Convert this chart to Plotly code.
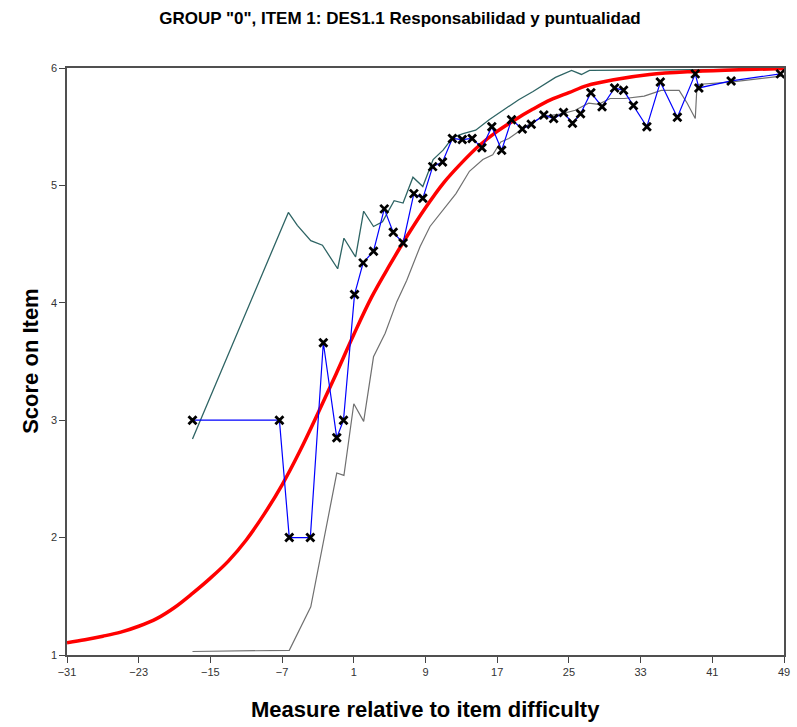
import plotly.graph_objects as go

# Empirical observed average scores
emp_x = [-17.0, -7.3, -6.2, -3.85, -2.4, -0.9, -0.15, 1.08, 2.04, 3.2, 4.4, 5.4, 6.5, 7.7, 8.7,
         9.8, 10.9, 12.0, 13.1, 14.2, 15.3, 16.4, 17.5, 18.6, 19.8, 20.8, 22.2, 23.3, 24.4, 25.4,
         26.3, 27.45, 28.7, 30.1, 31.1, 32.2, 33.7, 35.2, 37.1, 39.1, 39.5, 43.1, 48.6]
emp_y = [3.0, 3.0, 2.0, 2.0, 3.66, 2.85, 3.0, 4.07, 4.34, 4.44, 4.80, 4.60, 4.51, 4.93, 4.89,
         5.16, 5.20, 5.40, 5.39, 5.40, 5.32, 5.50, 5.30, 5.56, 5.48, 5.52, 5.60, 5.57, 5.62, 5.53,
         5.61, 5.79, 5.67, 5.83, 5.81, 5.68, 5.50, 5.88, 5.58, 5.95, 5.83, 5.89, 5.95]

# Model expected score curve
model_x = [-31, -29, -27, -25, -23, -21, -19, -17, -15, -13, -11, -9, -7, -5, -3, -1, 1, 3, 5, 7, 9,
           11, 13, 15, 17, 19, 21, 23, 25, 27, 30, 34, 39, 44, 49]
model_y = [1.105, 1.13, 1.16, 1.195, 1.245, 1.31, 1.405, 1.525, 1.655, 1.80, 1.98, 2.20, 2.45,
           2.74, 3.06, 3.39, 3.73, 4.05, 4.32, 4.575, 4.81, 5.02, 5.19, 5.34, 5.46, 5.56, 5.65,
           5.73, 5.79, 5.85, 5.90, 5.945, 5.97, 5.985, 5.995]

# Upper confidence band
upper_x = [-17.0, -6.3, -5.3, -3.8, -2.5, -0.8, -0.1, 1.2, 2.1, 3.2, 4.2, 5.5, 6.5, 7.6, 8.7,
           9.85, 10.96, 12.06, 13.2, 14.6, 16.1, 18.3, 19.4, 21.0, 22.2, 23.5, 25.3, 26.4, 27.3,
           35.0, 48.6]
upper_y = [2.84, 4.77, 4.66, 4.53, 4.49, 4.29, 4.55, 4.39, 4.78, 4.65, 4.69, 4.87, 4.85, 5.07, 4.99,
           5.22, 5.30, 5.41, 5.44, 5.47, 5.56, 5.67, 5.73, 5.80, 5.86, 5.92, 5.98, 5.945, 5.98,
           5.985, 5.99]

# Lower confidence band
lower_x = [-17.0, -6.2, -3.8, -0.9, -0.1, 1.0, 2.1, 3.2, 4.5, 5.8, 6.9, 8.4, 9.5, 11.0, 12.4,
           13.9, 15.4, 16.5, 17.4, 18.3, 20.9, 22.4, 24.2, 25.7, 27.2, 28.3, 29.6, 31.2, 33.4,
           35.3, 37.3, 38.2, 39.1, 39.3, 43.0, 48.7]
lower_y = [1.03, 1.04, 1.41, 2.55, 2.53, 3.14, 2.99, 3.54, 3.74, 4.01, 4.19, 4.48, 4.65, 4.79, 4.93,
           5.12, 5.22, 5.26, 5.37, 5.40, 5.54, 5.59, 5.61, 5.64, 5.70, 5.69, 5.74, 5.74, 5.76,
           5.81, 5.81, 5.70, 5.57, 5.86, 5.88, 5.93]

x_ticks = [-31, -23, -15, -7, 1, 9, 17, 25, 33, 41, 49]
y_ticks = [1, 2, 3, 4, 5, 6]

title = 'GROUP "0", ITEM 1: DES1.1 Responsabilidad y puntualidad'
x_title = "Measure relative to item difficulty"
y_title = "Score on Item"

FONT = "Liberation Sans, Arial, sans-serif"

fig = go.Figure()
fig.add_trace(go.Scatter(x=lower_x, y=lower_y, mode="lines",
                         line=dict(color="#707070", width=1.2), hoverinfo="skip"))
fig.add_trace(go.Scatter(x=upper_x, y=upper_y, mode="lines",
                         line=dict(color="#2e6464", width=1.3), hoverinfo="skip"))
fig.add_trace(go.Scatter(x=model_x, y=model_y, mode="lines",
                         line=dict(color="#ff0000", width=3.5, shape="spline", smoothing=1.0)))
fig.add_trace(go.Scatter(x=emp_x, y=emp_y, mode="lines+markers",
                         line=dict(color="#0000ff", width=1.2),
                         marker=dict(symbol="x-thin", size=8, color="black",
                                     line=dict(color="black", width=2.8))))

axis_common = dict(showline=True, linecolor="#505050", linewidth=1.5, mirror=True,
                   showgrid=False, zeroline=False, ticks="outside", ticklen=6,
                   tickcolor="#444444", tickwidth=1,
                   tickfont=dict(family=FONT, size=11, color="#333333"))

fig.update_layout(
    width=797, height=727,
    margin=dict(l=67, r=7, t=68, b=72),
    paper_bgcolor="white", plot_bgcolor="white",
    showlegend=False,
    title=dict(text="<b>" + title + "</b>", x=400 / 797, xanchor="center",
               xref="container", y=1 - 18 / 727, yref="container", yanchor="middle",
               font=dict(family=FONT, size=17, color="black")),
    xaxis=dict(range=[-31, 49], tickvals=x_ticks, **axis_common),
    yaxis=dict(range=[1, 6], tickvals=y_ticks, **axis_common),
    annotations=[
        dict(text="<b>" + x_title + "</b>", xref="paper", yref="paper", x=0.5, y=-(709 - 655) / 587,
             xanchor="center", yanchor="middle", showarrow=False,
             font=dict(family=FONT, size=22, color="black")),
        dict(text="<b>" + y_title + "</b>", xref="paper", yref="paper", x=-(67 - 30) / 723, y=0.5,
             xanchor="center", yanchor="middle", showarrow=False, textangle=-90,
             font=dict(family=FONT, size=22, color="black")),
    ],
)

fig.write_html("out.html")
